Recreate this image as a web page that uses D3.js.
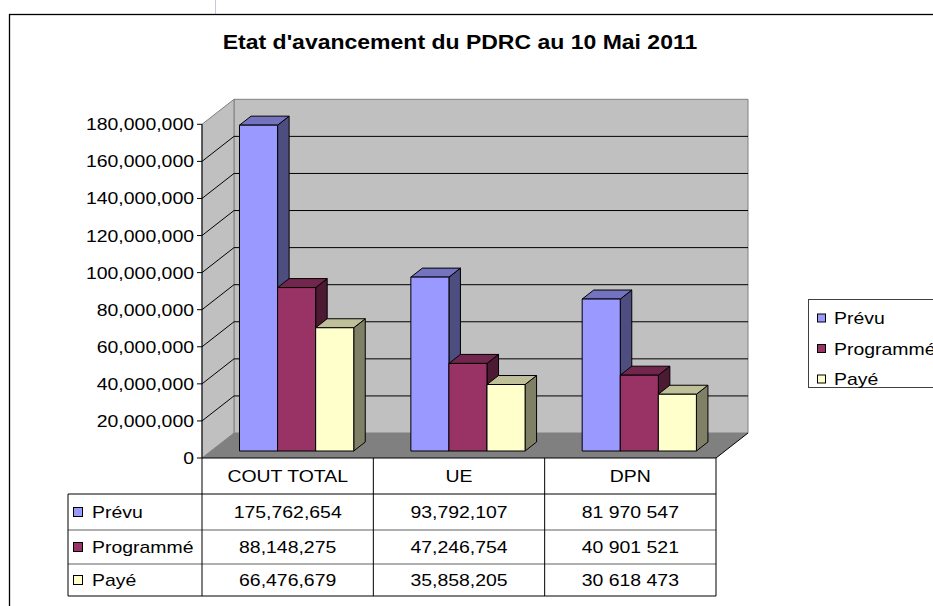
<!DOCTYPE html>
<html><head><meta charset="utf-8">
<script src="https://cdn.jsdelivr.net/npm/d3@7"></script>
<style>html,body{margin:0;padding:0;background:#fff;}svg{display:block;font-family:"Liberation Sans",Arial,sans-serif;}</style>
</head><body>
<script>
const categories = ["COUT TOTAL", "UE", "DPN"];
const seriesNames = ["Prévu", "Programmé", "Payé"];
const prevu = [175762654, 93792107, 81970547];
const programme = [88148275, 47246754, 40901521];
const paye = [66476679, 35858205, 30618473];
const seriesValues = [prevu, programme, paye];
const yTicks = [0, 20000000, 40000000, 60000000, 80000000, 100000000, 120000000, 140000000, 160000000, 180000000];
const frontColors = ["#9999FF", "#993366", "#FFFFCC"];
const topColors = ["#7373BF", "#73264D", "#BFBF99"];
const sideColors = ["#4D4D80", "#4D1A33", "#808066"];
const title = "Etat d'avancement du PDRC au 10 Mai 2011";

const W = 933, H = 606;
const SX = 1.13;           // horizontal text stretch
const FS = 17.2;
const svg = d3.select("body").append("svg").attr("width", W).attr("height", H);

// geometry
const FX0 = 202, FX1 = 716, FY0 = 458, FYT = 124.3, DX = 32, DY = -25;
const D0 = 0.28, D1 = 0.64;
const y = d3.scaleLinear().domain([0, 180000000]).range([FY0, FYT]);
const xCat = d3.scaleBand().domain(categories).range([FX0, FX1]);
const xSer = d3.scaleBand().domain(seriesNames).range([0, xCat.bandwidth()]).paddingInner(0).paddingOuter(0.75);
const P = (x, yy, d) => [x + DX * d, yy + DY * d];
const poly = pts => "M" + pts.map(p => p.join(",")).join("L") + "Z";

function txt(g, x, yy, s, opts = {}) {
  return g.append("text")
    .attr("transform", `translate(${x},${yy}) scale(${opts.sx || SX},1)`)
    .attr("text-anchor", opts.anchor || "start")
    .attr("font-size", opts.fs || FS)
    .attr("font-weight", opts.fw || "normal")
    .attr("fill", "#000")
    .text(s);
}

// background spreadsheet remnants
svg.append("line").attr("x1", 215.5).attr("x2", 215.5).attr("y1", 0).attr("y2", 14).attr("stroke", "#c8c8e4").attr("stroke-width", 1);
// chart frame
svg.append("rect").attr("x", 9.5).attr("y", 14.5).attr("width", 940).attr("height", 600)
  .attr("fill", "#fff").attr("stroke", "#000").attr("stroke-width", 1.3);

// title
txt(svg, 460, 48.5, title, { anchor: "middle", fs: 20, fw: "bold", sx: 1.15 });

const yMax = 180000000;
// walls
svg.append("path").attr("d", poly([P(FX0, y(yMax), 1), P(FX1, y(yMax), 1), P(FX1, y(0), 1), P(FX0, y(0), 1)]))
  .attr("fill", "#C0C0C0").attr("stroke", "#808080").attr("stroke-width", 1);
svg.append("path").attr("d", poly([P(FX0, y(0), 0), P(FX0, y(yMax), 0), P(FX0, y(yMax), 1), P(FX0, y(0), 1)]))
  .attr("fill", "#C0C0C0").attr("stroke", "#808080").attr("stroke-width", 1);
// floor
svg.append("path").attr("d", poly([P(FX0, y(0), 0), P(FX1, y(0), 0), P(FX1, y(0), 1), P(FX0, y(0), 1)]))
  .attr("fill", "#808080").attr("stroke", "none");
svg.append("path").attr("d", "M" + P(FX1, y(0), 0).join(",") + "L" + P(FX1, y(0), 1).join(","))
  .attr("stroke", "#000").attr("stroke-width", 1).attr("fill", "none");

// gridlines
const gl = svg.append("g");
yTicks.filter(t => t > 0 && t < yMax).forEach(t => {
  const a = P(FX0, y(t), 0), b = P(FX0, y(t), 1), c = P(FX1, y(t), 1);
  gl.append("path").attr("d", `M${a}L${b}L${c}`).attr("fill", "none").attr("stroke", "#000").attr("stroke-width", 1);
});

// axis
svg.append("line").attr("x1", FX0).attr("x2", FX0).attr("y1", y(yMax)).attr("y2", y(0)).attr("stroke", "#000");
const fmt = d3.format(",");
yTicks.forEach(t => {
  svg.append("line").attr("x1", FX0 - 5).attr("x2", FX0).attr("y1", y(t)).attr("y2", y(t)).attr("stroke", "#000");
  txt(svg, FX0 - 8, y(t) + FS * 0.35, fmt(t), { anchor: "end" });
});

// bars
const bars = svg.append("g");
categories.forEach((c, i) => {
  seriesNames.forEach((s, j) => {
    const v = seriesValues[j][i];
    const x0 = xCat(c) + xSer(s), x1 = x0 + xSer.bandwidth();
    const top = y(v), base = y(0);
    const g = bars.append("g").attr("stroke", "#000").attr("stroke-width", 1).attr("stroke-linejoin", "round");
    g.append("path").attr("d", poly([P(x1, top, D0), P(x1, top, D1), P(x1, base, D1), P(x1, base, D0)])).attr("fill", sideColors[j]);
    g.append("path").attr("d", poly([P(x0, top, D0), P(x1, top, D0), P(x1, top, D1), P(x0, top, D1)])).attr("fill", topColors[j]);
    g.append("path").attr("d", poly([P(x0, top, D0), P(x1, top, D0), P(x1, base, D0), P(x0, base, D0)])).attr("fill", frontColors[j]);
  });
});

// data table
const TL = 68;
const rowY = [458, 494, 530, 564, 596];
const tb = svg.append("g");
tb.append("line").attr("x1", FX0).attr("x2", FX1).attr("y1", rowY[0]).attr("y2", rowY[0]).attr("stroke", "#000");
tb.append("line").attr("x1", TL).attr("x2", FX1).attr("y1", rowY[1]).attr("y2", rowY[1]).attr("stroke", "#000");
tb.append("line").attr("x1", TL).attr("x2", FX1).attr("y1", rowY[2]).attr("y2", rowY[2]).attr("stroke", "#606060");
tb.append("line").attr("x1", TL).attr("x2", FX1).attr("y1", rowY[3]).attr("y2", rowY[3]).attr("stroke", "#606060");
tb.append("line").attr("x1", TL).attr("x2", FX1).attr("y1", rowY[4]).attr("y2", rowY[4]).attr("stroke", "#000");
tb.append("line").attr("x1", TL).attr("x2", TL).attr("y1", rowY[1]).attr("y2", rowY[4]).attr("stroke", "#000");
[FX0, ...categories.map(c => xCat(c) + xCat.bandwidth())].forEach(x => {
  tb.append("line").attr("x1", x).attr("x2", x).attr("y1", rowY[0]).attr("y2", rowY[4]).attr("stroke", "#000");
});
categories.forEach(c => {
  txt(tb, xCat(c) + xCat.bandwidth() / 2, (rowY[0] + rowY[1]) / 2 + FS * 0.35, c, { anchor: "middle" });
});
const cellFmt = (v, i) => i === 2 ? fmt(v).replace(/,/g, " ") : fmt(v);
seriesNames.forEach((s, j) => {
  const cy = (rowY[j + 1] + rowY[j + 2]) / 2;
  tb.append("rect").attr("x", TL + 5.5).attr("y", cy - 4.5).attr("width", 9).attr("height", 9)
    .attr("fill", frontColors[j]).attr("stroke", "#000");
  txt(tb, TL + 24, cy + FS * 0.35, s);
  categories.forEach((c, i) => {
    txt(tb, xCat(c) + xCat.bandwidth() / 2, cy + FS * 0.35, cellFmt(seriesValues[j][i], i), { anchor: "middle" });
  });
});

// legend
const lg = svg.append("g");
lg.append("rect").attr("x", 808.5).attr("y", 299.5).attr("width", 140).attr("height", 88)
  .attr("fill", "#fff").attr("stroke", "#404040");
seriesNames.forEach((s, j) => {
  const cy = 318 + j * 30.5;
  lg.append("rect").attr("x", 817.5).attr("y", cy - 4).attr("width", 8).attr("height", 8)
    .attr("fill", frontColors[j]).attr("stroke", "#000");
  txt(lg, 834, cy + FS * 0.35, s);
});
</script>
</body></html>
